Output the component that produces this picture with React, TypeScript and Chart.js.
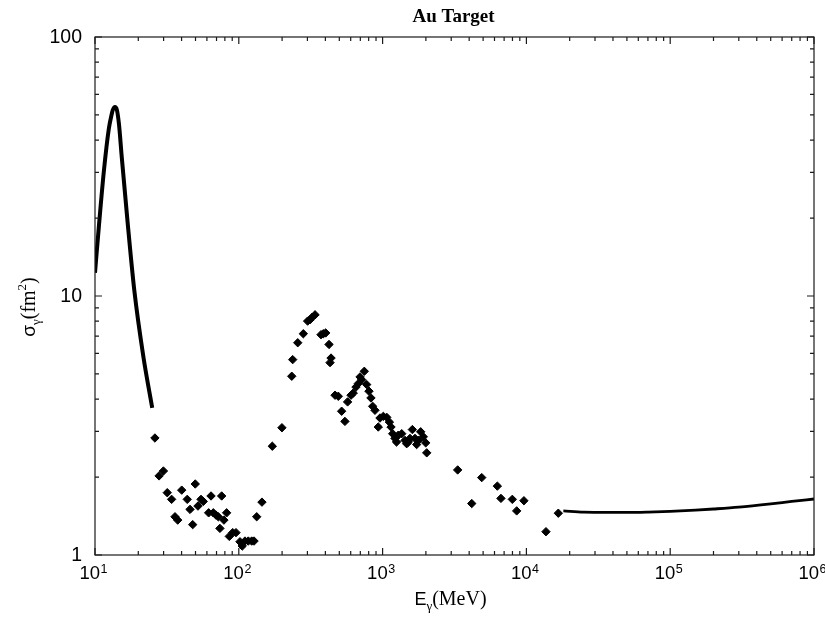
import React, { useEffect, useRef } from "react";
import { Chart, registerables } from "chart.js";

Chart.register(...registerables);

// Giant dipole resonance curve (low energy)
const gdrEnergy = [10, 10.66, 11.55, 12.5, 13.03, 13.3, 13.77, 14.2, 14.7, 15.34, 16.88, 18.77, 21.7, 25.0];
const gdrSigma = [12.3, 18.8, 30.7, 44.5, 50.0, 52.3, 53.7, 52.3, 45.7, 34.5, 19.1, 10.5, 5.83, 3.7];

// Measured points (diamonds)
const dataEnergy = [
  26.1, 27.9, 29.9, 31.8, 34.1, 36.0, 37.6, 40.1, 43.8, 45.8, 47.8, 49.8, 52.0, 54.6, 56.6, 61.7, 64.1, 66.5, 69.4, 72.0,
  73.9, 76.0, 78.8, 82.3, 85.9, 90.7, 95.6, 101.9, 105.7, 110.4, 116.4, 122.9, 127.6, 133.2, 144.9, 171, 199.5, 233.5, 237, 257,
  281, 301, 313, 324, 339, 373, 387, 402, 424, 431, 438, 467, 492, 519, 547, 571, 603, 625, 653, 678,
  697, 716, 746, 775, 804, 830, 853, 885, 933, 959, 1012, 1069, 1115, 1144, 1175, 1219, 1250, 1285, 1358, 1432,
  1470, 1510, 1550, 1611, 1680, 1725, 1772, 1840, 1919, 1995, 2027, 3327, 4168, 4890, 6281, 6653, 7980, 8560, 9610, 13680,
  16670,
];
const dataSigma = [
  2.83, 2.02, 2.11, 1.74, 1.64, 1.405, 1.364, 1.78, 1.64, 1.5, 1.31, 1.88, 1.545, 1.64, 1.61, 1.455, 1.69, 1.455, 1.426, 1.405,
  1.267, 1.69, 1.364, 1.455, 1.18, 1.22, 1.22, 1.125, 1.083, 1.132, 1.132, 1.132, 1.132, 1.405, 1.6, 2.63, 3.1, 4.9, 5.68, 6.6,
  7.15, 8.0, 8.1, 8.28, 8.46, 7.09, 7.15, 7.2, 6.5, 5.53, 5.76, 4.14, 4.1, 3.59, 3.28, 3.9, 4.14, 4.22, 4.45, 4.59,
  4.87, 4.75, 5.12, 4.55, 4.29, 4.04, 3.75, 3.62, 3.12, 3.38, 3.43, 3.4, 3.26, 3.12, 2.94, 2.82, 2.73, 2.9, 2.94, 2.77,
  2.69, 2.73, 2.82, 3.05, 2.82, 2.67, 2.77, 2.99, 2.86, 2.71, 2.48, 2.13, 1.58, 1.99, 1.845, 1.654, 1.64, 1.48, 1.62, 1.23,
  1.45,
];

// High-energy curve
const hiEnergy = [18070, 25000, 35000, 50000, 70000, 100000, 150000, 200000, 300000, 500000, 700000, 1000000];
const hiSigma = [1.48, 1.465, 1.46, 1.46, 1.465, 1.475, 1.49, 1.505, 1.53, 1.575, 1.61, 1.645];

// Axis ticks
const xTickExponents = [1, 2, 3, 4, 5, 6];
const yTickValues = [1, 10, 100];
const yTickLabels = ["1", "10", "100"];
const minorMultipliers = [2, 3, 4, 5, 6, 7, 8, 9];

const titleText = "Au Target";

const SANS = "'Liberation Sans', Arial, Helvetica, sans-serif";
const SERIF = "'Liberation Serif', 'Times New Roman', serif";

type Seg = { t: string; font: string; dy: number };

function drawSegs(ctx: CanvasRenderingContext2D, segs: Seg[], cx: number, baseY: number) {
  let total = 0;
  for (const s of segs) {
    ctx.font = s.font;
    total += ctx.measureText(s.t).width;
  }
  let x = cx - total / 2;
  ctx.textAlign = "left";
  ctx.textBaseline = "alphabetic";
  for (const s of segs) {
    ctx.font = s.font;
    ctx.fillText(s.t, x, baseY + s.dy);
    x += ctx.measureText(s.t).width;
  }
}

const framePlugin = {
  id: "framePlugin",
  afterDatasetsDraw(chart: any) {
    const ctx: CanvasRenderingContext2D = chart.ctx;
    const { left, right, top, bottom } = chart.chartArea;
    const xs = chart.scales.x;
    const ys = chart.scales.y;
    ctx.save();
    ctx.strokeStyle = "#1a1a1a";
    ctx.fillStyle = "#000";
    ctx.lineWidth = 1.2;
    ctx.strokeRect(left, top, right - left, bottom - top);

    const majorLen = 7;
    const minorLen = 4;
    ctx.beginPath();
    // x ticks
    for (const e of xTickExponents) {
      const v = Math.pow(10, e);
      const px = xs.getPixelForValue(v);
      ctx.moveTo(px, bottom);
      ctx.lineTo(px, bottom - majorLen);
      ctx.moveTo(px, top);
      ctx.lineTo(px, top + majorLen);
      if (e < 6) {
        for (const m of minorMultipliers) {
          const p = xs.getPixelForValue(m * v);
          ctx.moveTo(p, bottom);
          ctx.lineTo(p, bottom - minorLen);
          ctx.moveTo(p, top);
          ctx.lineTo(p, top + minorLen);
        }
      }
    }
    // y ticks
    for (let i = 0; i < yTickValues.length; i++) {
      const v = yTickValues[i];
      const py = ys.getPixelForValue(v);
      ctx.moveTo(left, py);
      ctx.lineTo(left + majorLen, py);
      ctx.moveTo(right, py);
      ctx.lineTo(right - majorLen, py);
      if (i < yTickValues.length - 1) {
        for (const m of minorMultipliers) {
          const p = ys.getPixelForValue(m * v);
          ctx.moveTo(left, p);
          ctx.lineTo(left + minorLen, p);
          ctx.moveTo(right, p);
          ctx.lineTo(right - minorLen, p);
        }
      }
    }
    ctx.stroke();

    // x tick labels: 10^n
    for (const e of xTickExponents) {
      const px = xs.getPixelForValue(Math.pow(10, e));
      ctx.font = `18.5px ${SANS}`;
      ctx.textAlign = "left";
      ctx.textBaseline = "alphabetic";
      const x0 = px - 15.5;
      ctx.fillText("10", x0, bottom + 23.5);
      const w = ctx.measureText("10").width;
      ctx.font = `12.5px ${SANS}`;
      ctx.fillText(String(e), x0 + w + 0.5, bottom + 17.5);
    }

    // y tick labels
    ctx.font = `19.5px ${SANS}`;
    ctx.textAlign = "right";
    ctx.textBaseline = "middle";
    for (let i = 0; i < yTickValues.length; i++) {
      const py = ys.getPixelForValue(yTickValues[i]);
      ctx.fillText(yTickLabels[i], left - 13, py + 1);
    }

    // title
    ctx.font = `bold 19px ${SERIF}`;
    ctx.textAlign = "center";
    ctx.textBaseline = "alphabetic";
    ctx.fillText(titleText, (left + right) / 2 - 1, 22);

    // x axis title: E_γ(MeV)
    drawSegs(
      ctx,
      [
        { t: "E", font: `18px ${SANS}`, dy: 0 },
        { t: "γ", font: `13px ${SERIF}`, dy: 5 },
        { t: "(MeV)", font: `20px ${SERIF}`, dy: 0 },
      ],
      (left + right) / 2 - 4,
      605
    );

    // y axis title: σ_γ(fm^2)
    ctx.save();
    ctx.translate(35, (top + bottom) / 2 + 11);
    ctx.rotate(-Math.PI / 2);
    drawSegs(
      ctx,
      [
        { t: "σ", font: `19px ${SANS}`, dy: 0 },
        { t: "γ", font: `13px ${SERIF}`, dy: 5 },
        { t: "(fm", font: `20px ${SERIF}`, dy: 0 },
        { t: "2", font: `13px ${SERIF}`, dy: -9 },
        { t: ")", font: `20px ${SERIF}`, dy: 0 },
      ],
      0,
      0
    );
    ctx.restore();

    ctx.restore();
  },
};

export default function App() {
  const canvasRef = useRef<HTMLCanvasElement | null>(null);

  useEffect(() => {
    document.body.style.margin = "0";
    const canvas = canvasRef.current;
    if (!canvas) return;
    const chart = new Chart(canvas, {
      type: "scatter",
      data: {
        datasets: [
          {
            data: gdrEnergy.map((e, i) => ({ x: e, y: gdrSigma[i] })),
            showLine: true,
            borderColor: "#000",
            backgroundColor: "#000",
            borderWidth: 4,
            pointRadius: 0,
            cubicInterpolationMode: "monotone",
          },
          {
            data: dataEnergy.map((e, i) => ({ x: e, y: dataSigma[i] })),
            showLine: false,
            pointStyle: "rectRot",
            pointRadius: 4.2,
            borderColor: "#000",
            backgroundColor: "#000",
            borderWidth: 1,
          },
          {
            data: hiEnergy.map((e, i) => ({ x: e, y: hiSigma[i] })),
            showLine: true,
            borderColor: "#000",
            backgroundColor: "#000",
            borderWidth: 2.8,
            pointRadius: 0,
            cubicInterpolationMode: "monotone",
          },
        ],
      } as any,
      options: {
        responsive: false,
        animation: false,
        layout: { padding: { left: 95, right: 11, top: 37, bottom: 62 } },
        scales: {
          x: { type: "logarithmic", min: 10, max: 1000000, display: false },
          y: { type: "logarithmic", min: 1, max: 100, display: false },
        },
        plugins: {
          legend: { display: false },
          tooltip: { enabled: false },
        },
      },
      plugins: [framePlugin],
    });
    return () => chart.destroy();
  }, []);

  return (
    <div style={{ width: 825, height: 617, background: "#fff" }}>
      <canvas ref={canvasRef} width={825} height={617} style={{ display: "block" }} />
    </div>
  );
}
